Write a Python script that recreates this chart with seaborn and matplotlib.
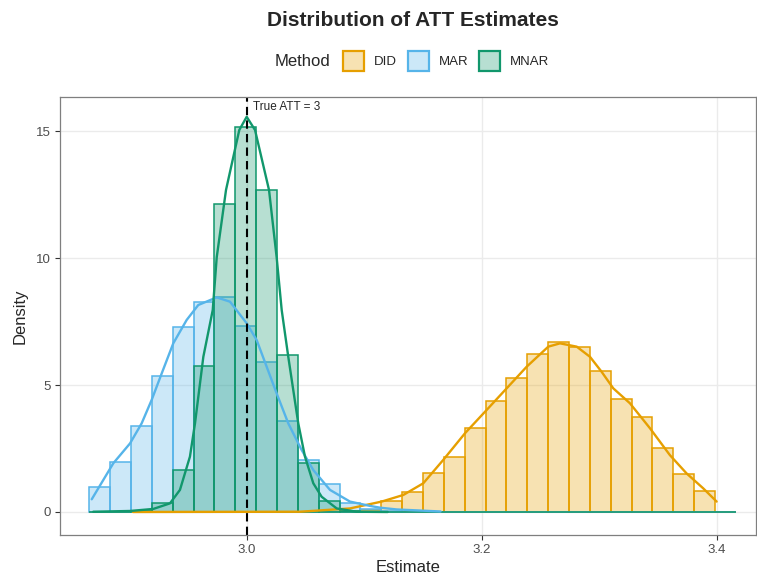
import numpy as np
import pandas as pd
import matplotlib
matplotlib.use("Agg")
import matplotlib.pyplot as plt
import seaborn as sns
from matplotlib.patches import Patch

sns.set_style("white")
plt.rcParams['font.family'] = ['Liberation Sans', 'DejaVu Sans']

# Donnees
methods = ["DID", "MAR", "MNAR"]
colors = {"DID": "#E69F00", "MAR": "#56B4E9", "MNAR": "#11976C"}
bin_edges = list(np.linspace(2.8660, 3.4164, 32))  # 31 classes communes
bin_centers = [(a + b) / 2 for a, b in zip(bin_edges[:-1], bin_edges[1:])]

dens_did = [0, 0, 0.02, 0, 0, 0, 0, 0, 0, 0, 0, 0, 0.03, 0.08, 0.43, 0.79,
            1.55, 2.15, 3.30, 4.37, 5.29, 6.22, 6.68, 6.51, 5.55, 4.45, 3.75,
            2.53, 1.50, 0.84, 0]
dens_mar = [0.97, 1.98, 3.38, 5.34, 7.30, 8.26, 8.48, 7.33, 5.89, 3.58, 2.05,
            1.11, 0.36, 0.12, 0.03, 0, 0, 0, 0, 0, 0, 0, 0, 0, 0, 0, 0, 0, 0,
            0, 0]
dens_mnar = [0, 0, 0.04, 0.34, 1.65, 5.76, 12.13, 15.17, 12.69, 6.18, 1.92,
             0.43, 0.04, 0, 0, 0, 0, 0, 0, 0, 0, 0, 0, 0, 0, 0, 0, 0, 0, 0, 0]

# courbes de densite (points lus)
kde_did_x = [2.9032, 3.0454, 3.0879, 3.1149, 3.1333, 3.1503, 3.1673, 3.1858,
             3.2043, 3.2213, 3.2383, 3.2567, 3.2667, 3.2809, 3.2922, 3.3021,
             3.3120, 3.3262, 3.3432, 3.3602, 3.3744, 3.3886, 3.4000]
kde_did_y = [0.0, 0.01, 0.14, 0.41, 0.67, 1.13, 2.05, 3.10, 4.02, 4.87, 5.72,
             6.51, 6.64, 6.51, 6.11, 5.52, 4.87, 4.28, 3.30, 2.24, 1.52, 0.93,
             0.41]
kde_mar_x = [2.8681, 2.8865, 2.9007, 2.9106, 2.9191, 2.9277, 2.9375, 2.9489,
             2.9588, 2.9745, 2.9858, 3.0000, 3.0085, 3.0170, 3.0255, 3.0354,
             3.0468, 3.0567, 3.0709, 3.0879, 3.1049, 3.1134, 3.1277, 3.1650]
kde_mar_y = [0.50, 1.92, 2.70, 3.49, 4.41, 5.46, 6.64, 7.56, 8.15, 8.45, 8.28,
             7.43, 6.77, 5.72, 4.67, 3.49, 2.44, 1.65, 0.87, 0.41, 0.24, 0.17,
             0.10, 0.02]
kde_mnar_x = [2.8694, 2.9007, 2.9205, 2.9347, 2.9432, 2.9517, 2.9560, 2.9631,
              2.9711, 2.9745, 2.9824, 2.9937, 3.0000, 3.0071, 3.0190, 3.0255,
              3.0298, 3.0354, 3.0439, 3.0496, 3.0567, 3.0638, 3.0766, 3.0936,
              3.1200]
kde_mnar_y = [0.01, 0.04, 0.12, 0.34, 0.87, 2.18, 3.49, 6.11, 7.95, 10.03,
              12.68, 15.04, 15.56, 15.04, 12.68, 10.03, 7.95, 6.11, 3.49, 2.18,
              1.13, 0.60, 0.14, 0.01, 0.0]

true_att = 3

hist_df = pd.DataFrame({
    "Estimate": bin_centers * 3,
    "Density": dens_did + dens_mar + dens_mnar,
    "Method": [m for m in methods for _ in bin_centers],
})
kde = {"DID": (kde_did_x, kde_did_y), "MAR": (kde_mar_x, kde_mar_y),
       "MNAR": (kde_mnar_x, kde_mnar_y)}

fig = plt.figure(figsize=(7.57, 5.74), dpi=100)
ax = fig.add_axes([60 / 757, 1 - 535 / 574, 696 / 757, 438 / 574])

# histogrammes
for m in methods:
    sub = hist_df[hist_df["Method"] == m].reset_index(drop=True)
    sns.histplot(data=sub, x="Estimate", weights="Density", bins=bin_edges,
                 stat="count", color=colors[m], alpha=0.3,
                 edgecolor=colors[m], linewidth=1.1, ax=ax)

# densites
for m in methods:
    sns.lineplot(x=kde[m][0], y=kde[m][1], color=colors[m], linewidth=1.7,
                 ax=ax)

ax.axvline(true_att, color="black", linestyle=(0, (4, 2.5)), linewidth=1.5)
ax.text(true_att + 0.005, 15.95, "True ATT = 3", fontsize=8.5, va="center",
        ha="left")

ax.set_xlim(2.8411, 3.4335)
ax.set_ylim(-0.906, 16.34)
ax.set_xticks([3.0, 3.2, 3.4])
ax.set_xticklabels(["3.0", "3.2", "3.4"])
ax.set_yticks([0, 5, 10, 15])
ax.grid(True, color="#EBEBEB", linewidth=1.0)
ax.set_axisbelow(True)
for s in ax.spines.values():
    s.set_color("#7F7F7F")
    s.set_linewidth(0.9)
ax.tick_params(axis="both", which="major", length=3.5, width=0.8,
               color="#333333", labelcolor="#4D4D4D", labelsize=9.5,
               bottom=True, left=True, pad=3)
ax.set_xlabel("Estimate", fontsize=12, labelpad=3)
ax.set_ylabel("Density", fontsize=12, labelpad=6)

fig.text(0.545, 1 - 20 / 574, "Distribution of ATT Estimates", fontsize=15,
         fontweight="bold", ha="center", va="center")

handles = [Patch(facecolor=matplotlib.colors.to_rgba(colors[m], 0.3),
                 edgecolor=colors[m], linewidth=1.6) for m in methods]
fig.text(275 / 757, 1 - 61 / 574, "Method", fontsize=12, ha="left",
         va="center")
fig.legend(handles, methods, loc="center left",
           bbox_to_anchor=(343 / 757, 1 - 61 / 574), ncol=3, frameon=False,
           fontsize=9.5, handlelength=1.6, handleheight=1.9,
           handletextpad=0.75, columnspacing=0.8, borderpad=0,
           borderaxespad=0)

fig.savefig("out.png", dpi=100)
